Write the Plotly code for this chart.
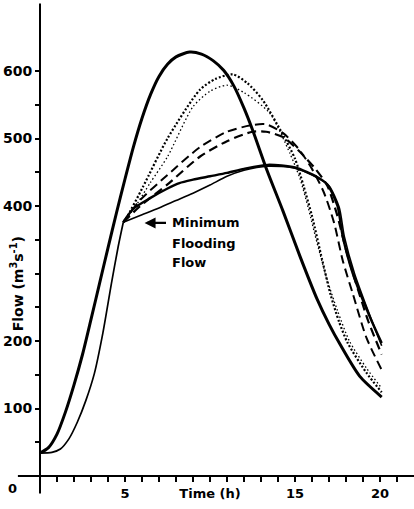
import plotly.graph_objects as go

# ---- data (hours, m3/s) ----
inflow_t = [0, 0.5, 1.0, 1.5, 2.0, 2.5, 3.0, 3.5, 4.0, 4.5, 5.0, 5.5, 6.0, 6.5, 7.0, 7.5, 8.0, 8.8, 9.5, 10.2, 10.8, 11.4, 12.0, 12.5, 13.35, 14.3, 15.3, 16.3, 17.0, 17.65, 18.8, 20.1]
inflow_q = [34, 42, 62, 95, 135, 180, 232, 285, 338, 390, 440, 488, 530, 565, 592, 610, 621, 628, 625, 615, 601, 578, 545, 513, 453, 392, 325, 262, 225, 195, 148, 117]

base_t = [0, 0.7, 1.2, 1.7, 2.2, 2.7, 3.2, 3.7, 4.2, 4.6, 4.9]
base_q = [34, 35, 40, 55, 80, 112, 152, 212, 285, 340, 376]

dot_heavy_t = [4.9, 5.1, 6.05, 7.5, 9.4, 10.3, 11.35, 12.2, 13.1, 14.3, 15.0, 15.5, 16.0, 16.6, 17.1, 17.6, 18.1, 19.2, 20.1]
dot_heavy_q = [376, 383, 428, 500, 572, 588, 595, 582, 557, 505, 470, 430, 385, 320, 268, 228, 197, 153, 124]

dot_light_t = [4.9, 5.5, 6.5, 7.5, 9.0, 10.0, 11.0, 12.0, 13.5, 14.7, 15.3, 15.8, 16.3, 16.9, 17.5, 18.2, 19.2, 20.1]
dot_light_q = [376, 395, 435, 473, 547, 570, 579, 568, 538, 478, 440, 395, 345, 290, 245, 200, 160, 130]

dash_a_t = [4.9, 5.9, 7.5, 9.4, 11.0, 12.5, 13.3, 14.3, 15.2, 16.0, 16.7, 17.3, 17.8, 18.4, 19.2, 20.1]
dash_a_q = [376, 409, 446, 487, 510, 520, 521, 508, 485, 455, 420, 375, 320, 270, 205, 157]

dash_b_t = [4.9, 5.9, 7.5, 9.4, 11.0, 12.5, 13.3, 14.3, 15.3, 16.2, 16.9, 17.5, 18.0, 18.6, 19.3, 20.1]
dash_b_q = [376, 400, 432, 473, 496, 510, 510, 502, 480, 455, 430, 385, 335, 285, 230, 180]

solid_a_t = [4.9, 5.5, 6.5, 7.5, 8.2, 9.0, 10.0, 11.0, 12.0, 13.4, 15.0, 16.3, 16.9, 17.5, 17.8, 18.4, 19.4, 20.1]
solid_a_q = [376, 396, 412, 426, 434, 439, 444, 449, 455, 461, 457, 443, 432, 400, 356, 300, 236, 197]

solid_b_t = [4.9, 6.0, 7.0, 8.0, 9.0, 10.0, 11.0, 12.0, 13.4, 15.0, 16.3, 17.0, 17.6, 17.9, 18.5, 19.4, 20.1]
solid_b_q = [376, 387, 397, 408, 419, 431, 444, 453, 459, 456, 442, 430, 398, 355, 300, 238, 193]

x_ticks = list(range(0, 22))
x_labels = {5: "5", 10: "Time (h)", 15: "15", 20: "20"}
y_ticks = list(range(50, 601, 50))
y_labels = {100: "100", 200: "200", 400: "400", 500: "500", 600: "600"}

# ---- figure ----
FONT = "DejaVu Sans"
X0, X1 = -2.353, 22.0
Y0, Y1 = -48.9, 705.2

fig = go.Figure()

def add(t, q, width, dash="solid"):
    fig.add_trace(go.Scatter(x=t, y=q, mode="lines", showlegend=False, hoverinfo="skip",
                             line=dict(color="black", width=width, dash=dash, shape="spline", smoothing=0.7)))

add(base_t, base_q, 1.7)
add(solid_b_t, solid_b_q, 1.6)
add(solid_a_t, solid_a_q, 2.4)
add(dash_b_t, dash_b_q, 2.2, "9px,5px")
add(dash_a_t, dash_a_q, 2.0, "9px,5px")
add(dot_light_t, dot_light_q, 1.3, "1.5px,2.5px")
add(dot_heavy_t, dot_heavy_q, 2.2, "2px,2px")
add(inflow_t, inflow_q, 3.0)

shapes = [
    dict(type="line", xref="x", yref="y", x0=-1.3, x1=22, y0=0, y1=0, line=dict(color="black", width=2)),
    dict(type="line", xref="x", yref="y", x0=0, x1=0, y0=-26, y1=700, line=dict(color="black", width=2)),
]

bold = lambda s: f"<b>{s}</b>" if s else " "

annotations = [
    dict(x=-1.6, y=-19, xref="x", yref="y", text="<b>0</b>", showarrow=False,
         font=dict(family=FONT, size=13, color="black"), xanchor="center", yanchor="middle"),
    dict(x=-1.35, y=284, xref="x", yref="y", text="<b>Flow (m<sup>3</sup>s<sup>-1</sup>)</b>", showarrow=False,
         textangle=-90, font=dict(family=FONT, size=14, color="black"), xanchor="center", yanchor="middle"),
    dict(x=6.15, y=375, ax=7.5, ay=375, xref="x", yref="y", axref="x", ayref="y", text="",
         showarrow=True, arrowhead=2, arrowsize=1, arrowwidth=2.2, arrowcolor="black"),
    dict(x=7.65, y=375, xref="x", yref="y", text="<b>Minimum</b>", showarrow=False,
         font=dict(family=FONT, size=13, color="black"), xanchor="left", yanchor="middle"),
    dict(x=7.65, y=345, xref="x", yref="y", text="<b>Flooding</b>", showarrow=False,
         font=dict(family=FONT, size=13, color="black"), xanchor="left", yanchor="middle"),
    dict(x=7.65, y=316, xref="x", yref="y", text="<b>Flow</b>", showarrow=False,
         font=dict(family=FONT, size=13, color="black"), xanchor="left", yanchor="middle"),
]

fig.update_layout(
    width=414, height=509,
    margin=dict(l=0, r=0, t=0, b=0, autoexpand=False),
    paper_bgcolor="white", plot_bgcolor="white",
    shapes=shapes, annotations=annotations,
    xaxis=dict(range=[X0, X1], anchor="free", position=(0 - Y0) / (Y1 - Y0), automargin=False,
               showgrid=False, zeroline=False, showline=False, tickangle=0, fixedrange=True,
               tickmode="array", tickvals=x_ticks, ticktext=[bold(x_labels.get(v, "")) for v in x_ticks],
               ticks="outside", ticklen=5, tickwidth=1.6, tickcolor="black",
               tickfont=dict(family=FONT, size=13, color="black")),
    yaxis=dict(range=[Y0, Y1], anchor="free", position=(0 - X0) / (X1 - X0), automargin=False,
               showgrid=False, zeroline=False, showline=False, fixedrange=True,
               tickmode="array", tickvals=y_ticks, ticktext=[bold(y_labels.get(v, "")) for v in y_ticks],
               ticks="outside", ticklen=5, tickwidth=1.6, tickcolor="black",
               tickfont=dict(family=FONT, size=14, color="black")),
)

fig.write_html("out.html", config={"displayModeBar": False},
               post_script="document.body.style.margin='0';")
